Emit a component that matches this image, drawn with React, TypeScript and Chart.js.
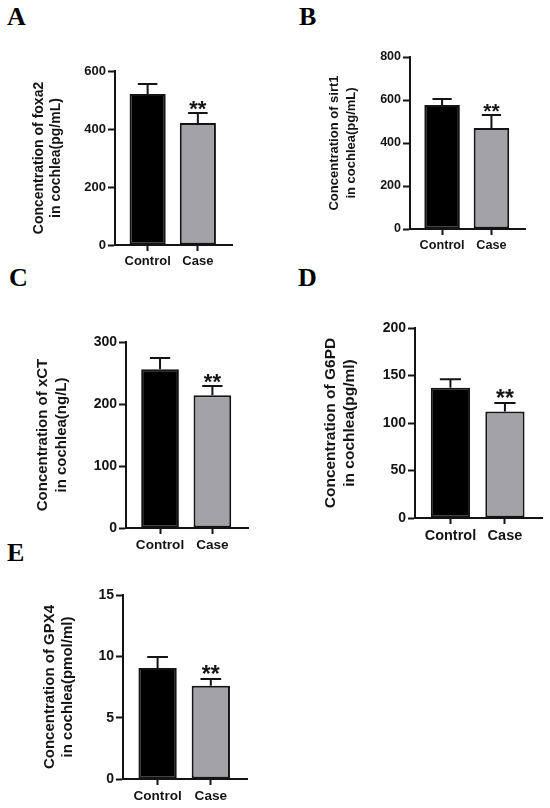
import { useEffect, useRef } from "react";
import { Chart, registerables } from "chart.js";

Chart.register(...registerables);

const groups = ["Control", "Case"];
const sigMarks = ["", "**"];

const foxa2Mean = [521, 421];
const foxa2Err = [34, 34];
const foxa2Ticks = [0, 200, 400, 600];

const sirt1Mean = [577, 470];
const sirt1Err = [28, 60];
const sirt1Ticks = [0, 200, 400, 600, 800];

const xctMean = [256, 214];
const xctErr = [18, 15];
const xctTicks = [0, 100, 200, 300];

const g6pdMean = [137, 112];
const g6pdErr = [9, 9];
const g6pdTicks = [0, 50, 100, 150, 200];

const gpx4Mean = [9.05, 7.6];
const gpx4Err = [0.9, 0.55];
const gpx4Ticks = [0, 5, 10, 15];

const SANS = '"Liberation Sans", Arial, Helvetica, sans-serif';
const INK = "#141414";

const errorBarPlugin = {
  id: "errorBars",
  afterDatasetsDraw(chart: any, _args: any, opts: any) {
    const { ctx } = chart;
    const y = chart.scales.y;
    const meta = chart.getDatasetMeta(0);
    const ds = chart.data.datasets[0];
    meta.data.forEach((bar: any, i: number) => {
      const mean = ds.data[i].y as number;
      const top = y.getPixelForValue(mean + opts.errs[i]);
      const base = y.getPixelForValue(mean);
      const half = bar.width * 0.27;
      ctx.save();
      ctx.strokeStyle = INK;
      ctx.lineWidth = 2;
      ctx.beginPath();
      ctx.moveTo(bar.x, base);
      ctx.lineTo(bar.x, top);
      ctx.moveTo(bar.x - half, top);
      ctx.lineTo(bar.x + half, top);
      ctx.stroke();
      if (sigMarks[i]) {
        ctx.font = `bold ${opts.starSize}px ${SANS}`;
        ctx.textAlign = "center";
        ctx.textBaseline = "alphabetic";
        ctx.fillStyle = INK;
        ctx.fillText(sigMarks[i], bar.x, top + 3);
      }
      ctx.restore();
    });
  },
};

type Area = { l: number; r: number; t: number; b: number };

type PanelProps = {
  means: number[];
  errs: number[];
  ticks: number[];
  title: string[];
  area: Area;
  canvasLeft: number;
  bottomSpace: number;
  titleCenter: number;
  lh: number;
  tickSize: number;
  titleSize: number;
  labelSize: number;
  starSize: number;
};

function Panel(p: PanelProps) {
  const canvasRef = useRef<HTMLCanvasElement | null>(null);
  const padTop = 14;
  const padRight = 8;
  const left = p.canvasLeft;
  const top = p.area.t - padTop;
  const width = p.area.r + padRight - left;
  const height = p.area.b + p.bottomSpace - top;

  useEffect(() => {
    const canvas = canvasRef.current;
    if (!canvas) return;
    const yWidth = p.area.l - left;
    const titlePad = p.titleCenter - left - p.lh / 2;

    const chart = new Chart(canvas, {
      type: "bar",
      data: {
        datasets: [
          {
            data: p.means.map((m, i) => ({ x: i + 1, y: m })),
            backgroundColor: ["#000000", "#a3a3a7"],
            borderColor: INK,
            borderWidth: 2,
            borderSkipped: false,
          },
        ],
      },
      options: {
        responsive: false,
        animation: false,
        events: [],
        layout: { padding: { top: padTop, right: padRight, left: 0, bottom: 0 } },
        plugins: {
          legend: { display: false },
          tooltip: { enabled: false },
          errorBars: { errs: p.errs, starSize: p.starSize },
        } as any,
        scales: {
          x: {
            type: "linear",
            min: 0.35,
            max: 2.68,
            offset: false,
            bounds: "data",
            afterBuildTicks: (s: any) => {
              s.ticks = groups.map((_, i) => ({ value: i + 1 }));
            },
            afterFit: (s: any) => {
              s.height = p.bottomSpace;
            },
            grid: { offset: false, drawOnChartArea: false, drawTicks: true, tickLength: 6, tickWidth: 2, tickColor: INK },
            border: { display: true, color: INK, width: 2 },
            ticks: {
              callback: (v: any) => groups[Number(v) - 1] ?? "",
              font: { family: SANS, weight: "bold", size: p.labelSize },
              color: INK,
              padding: 3,
              maxRotation: 0,
              autoSkip: false,
            },
          },
          y: {
            min: 0,
            max: p.ticks[p.ticks.length - 1],
            afterBuildTicks: (s: any) => {
              s.ticks = p.ticks.map((v) => ({ value: v }));
            },
            afterFit: (s: any) => {
              s.width = yWidth;
            },
            grid: { drawOnChartArea: false, drawTicks: true, tickLength: 7, tickWidth: 2, tickColor: INK },
            border: { display: true, color: INK, width: 2 },
            ticks: {
              font: { family: SANS, weight: "bold", size: p.tickSize },
              color: INK,
              padding: 2,
            },
            title: {
              display: true,
              text: p.title,
              color: INK,
              font: { family: SANS, weight: "bold", size: p.titleSize, lineHeight: `${p.lh}px` },
              padding: { top: titlePad, bottom: 0 },
            },
          },
        },
      } as any,
      plugins: [errorBarPlugin],
    });

    return () => chart.destroy();
  }, []);

  return (
    <canvas
      ref={canvasRef}
      width={width}
      height={height}
      style={{ position: "absolute", left, top, width, height }}
    />
  );
}

function Letter({ ch, left, baseline }: { ch: string; left: number; baseline: number }) {
  return (
    <span
      style={{
        position: "absolute",
        left,
        top: baseline - 22,
        fontFamily: '"Liberation Serif", "Times New Roman", serif',
        fontWeight: "bold",
        fontSize: 26,
        lineHeight: 1,
        color: "#000",
      }}
    >
      {ch}
    </span>
  );
}

export default function App() {
  useEffect(() => {
    document.body.style.margin = "0";
  }, []);

  return (
    <div style={{ position: "relative", width: 550, height: 808, overflow: "hidden", background: "#fff" }}>
      <Letter ch="A" left={7} baseline={26} />
      <Letter ch="B" left={299} baseline={26} />
      <Letter ch="C" left={9} baseline={287} />
      <Letter ch="D" left={298} baseline={287} />
      <Letter ch="E" left={7} baseline={562} />

      <Panel
        means={foxa2Mean}
        errs={foxa2Err}
        ticks={foxa2Ticks}
        title={["Concentration of foxa2", "in cochlea(pg/mL)"]}
        area={{ l: 115, r: 232, t: 71, b: 245 }}
        canvasLeft={10}
        bottomSpace={40}
        titleCenter={39}
        lh={17}
        tickSize={13}
        titleSize={14}
        labelSize={13}
        starSize={22}
      />
      <Panel
        means={sirt1Mean}
        errs={sirt1Err}
        ticks={sirt1Ticks}
        title={["Concentration of sirt1", "in cochlea(pg/mL)"]}
        area={{ l: 410, r: 525, t: 57, b: 229 }}
        canvasLeft={290}
        bottomSpace={40}
        titleCenter={334}
        lh={17}
        tickSize={12.5}
        titleSize={13}
        labelSize={12.7}
        starSize={21}
      />
      <Panel
        means={xctMean}
        errs={xctErr}
        ticks={xctTicks}
        title={["Concentration of xCT", "in cochlea(ng/L)"]}
        area={{ l: 126, r: 248, t: 342, b: 528 }}
        canvasLeft={10}
        bottomSpace={40}
        titleCenter={43}
        lh={19}
        tickSize={14}
        titleSize={15}
        labelSize={13.6}
        starSize={22}
      />
      <Panel
        means={g6pdMean}
        errs={g6pdErr}
        ticks={g6pdTicks}
        title={["Concentration of G6PD", "in cochlea(pg/ml)"]}
        area={{ l: 415, r: 542, t: 328, b: 518 }}
        canvasLeft={290}
        bottomSpace={40}
        titleCenter={331}
        lh={19}
        tickSize={14}
        titleSize={15.5}
        labelSize={14.5}
        starSize={23}
      />
      <Panel
        means={gpx4Mean}
        errs={gpx4Err}
        ticks={gpx4Ticks}
        title={["Concentration of GPX4", "in cochlea(pmol/ml)"]}
        area={{ l: 123, r: 247, t: 595, b: 779 }}
        canvasLeft={10}
        bottomSpace={29}
        titleCenter={50}
        lh={18}
        tickSize={14}
        titleSize={15}
        labelSize={13.6}
        starSize={23}
      />
    </div>
  );
}
